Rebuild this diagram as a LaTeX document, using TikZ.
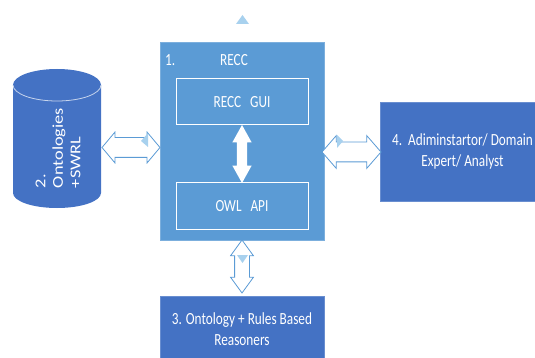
\documentclass[tikz,border=0pt]{standalone}
\usepackage{fontspec}
\setmainfont{Carlito}
\newfontfamily\boxfont[FakeStretch=0.78]{Carlito}
\newfontfamily\cylfont[FakeStretch=1.22]{Carlito}
\usetikzlibrary{shapes.arrows,calc}
\definecolor{reccblue}{HTML}{5B9BD5}
\definecolor{darkblue}{HTML}{4472C4}
\definecolor{arrowblue}{HTML}{5B9BD5}
\definecolor{glowblue}{HTML}{A8D1EE}
\begin{document}
\begin{tikzpicture}[x=1pt,y=1pt,
  every node/.style={font=\boxfont\fontsize{17}{21.5}\selectfont,text=white,inner sep=0pt},
  block/.style={fill=#1,draw=#1!80!white,line width=0.6pt},
  inbox/.style={fill=reccblue,draw=white,line width=1pt,minimum width=132,minimum height=46},
  dblarrow/.style={double arrow,draw=arrowblue,fill=white,line width=0.8pt,inner xsep=0pt}]
\useasboundingbox (0,0) rectangle (535,-358);
% cylinder
\fill[darkblue] (13,-85) arc[start angle=180,end angle=0,x radius=44,y radius=16]
  -- (101,-193) arc[start angle=0,end angle=-180,x radius=44,y radius=15] -- cycle;
\draw[white!70!darkblue,line width=0.8pt] (13,-85) arc[start angle=180,end angle=360,x radius=44,y radius=16];
\node[minimum width=88,minimum height=139] (cyl) at (57,-138.5) {};
\node[font=\cylfont\fontsize{15}{17.5}\selectfont,rotate=90,align=left] (cyltext) at (58,-148) {2.\\Ontologies\\+SWRL};
% boxes
\node[block=reccblue,minimum width=164,minimum height=198] (recc) at (242,-141) {};
\node[anchor=west] (num1) at (165,-60) {1.};
\node (recctitle) at (234,-60) {RECC};
\node[inbox] (gui) at (242,-102) {RECC\ \ \ GUI};
\node[inbox] (owl) at (242,-206) {OWL\ \ \ API};
\node[block=darkblue,minimum width=164,minimum height=66,align=center] (reas) at (242,-329) {3. Ontology + Rules Based\\Reasoners};
\node[block=darkblue,minimum width=165,minimum height=99,align=center] (user) at (462.5,-151.5) {4.\ \ Adiminstartor/ Domain\\Expert/ Analyst};
% arrows
\node[double arrow,fill=white,rotate=90,inner xsep=0pt,inner ysep=5,double arrow head extend=4.5,double arrow tip angle=58,minimum height=58] (a1) at ($(gui.south)!.5!(owl.north)$) {};
\node[dblarrow,inner ysep=9.5,double arrow head extend=5.5,double arrow tip angle=100,minimum height=58] (a2) at (131,-147.5) {};
\node[dblarrow,rotate=90,inner ysep=7,double arrow head extend=4,double arrow tip angle=72,minimum height=53] (a3) at (242,-266.5) {};
\node[dblarrow,inner ysep=9.5,double arrow head extend=6.5,double arrow tip angle=98,minimum height=59] (a4) at (351.5,-152) {};
% glow marks
\fill[glowblue] (236,-24) -- (249,-24) -- (242.5,-15) -- cycle;
\fill[glowblue] (148,-133) -- (148,-147) -- (141,-141) -- cycle;
\fill[glowblue] (337,-135) -- (337,-148) -- (343,-141) -- cycle;
\fill[glowblue] (237,-255) -- (248,-255) -- (242.5,-263) -- cycle;
\end{tikzpicture}
\end{document}
